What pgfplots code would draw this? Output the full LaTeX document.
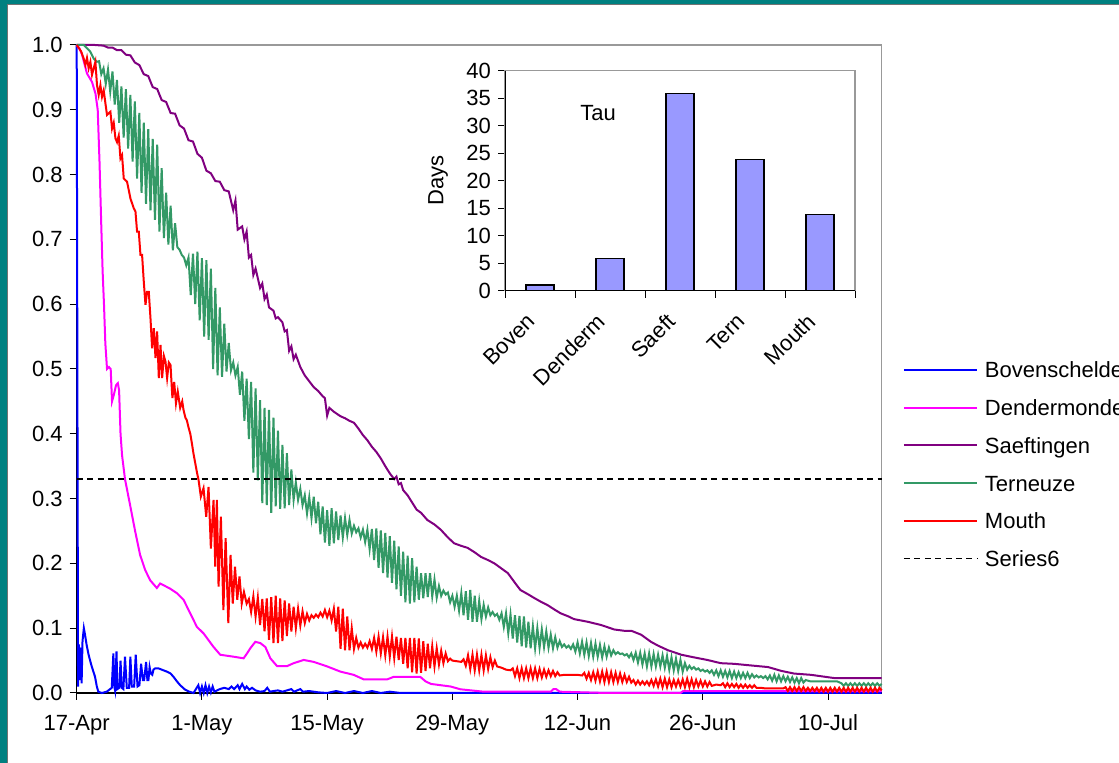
\documentclass[border=0pt]{standalone}
\usepackage{fontspec}
\setmainfont{Liberation Sans}
\usepackage{pgfplots}
\pgfplotsset{compat=1.18}
\definecolor{tealframe}{RGB}{0,128,128}
\definecolor{cBov}{RGB}{0,0,255}
\definecolor{cDen}{RGB}{255,0,255}
\definecolor{cSae}{RGB}{128,0,128}
\definecolor{cTer}{RGB}{51,153,102}
\definecolor{cMou}{RGB}{255,0,0}
\definecolor{cBar}{RGB}{153,153,255}
\newcommand{\chartfont}{\fontsize{11pt}{13pt}\selectfont}
\begin{document}
\begin{tikzpicture}[font=\chartfont]
\fill[tealframe] (0,0) rectangle (559.5pt,381.5pt);
\fill[white] (3.5pt,0) rectangle (559.5pt,379pt);
\draw[black!55, line width=0.5pt] (3.5pt,0) -- (3.5pt,379pt) -- (559.5pt,379pt);
\begin{axis}[
  at={(38.35pt,35pt)}, anchor=south west,
  scale only axis, width=402.5pt, height=324pt,
  xmin=0, xmax=90, ymin=0, ymax=1,
  clip=false,
  axis line style={draw=gray!80, line width=0.6pt},
  tick pos=left, tick align=outside, major tick length=3.5pt,
  tick style={black, line width=0.5pt},
  xtick={0,14,28,42,56,70,84},
  xticklabels={17-Apr,1-May,15-May,29-May,12-Jun,26-Jun,10-Jul},
  ytick={0,0.1,0.2,0.3,0.4,0.5,0.6,0.7,0.8,0.9,1},
  tick label style={font=\chartfont},
  xticklabel style={yshift=-4pt},
  yticklabel style={/pgf/number format/.cd, fixed, fixed zerofill, precision=1, assume math mode=true},
  legend cell align=left,
  legend image code/.code={\draw[#1] (0pt,0pt) -- (36.5pt,0pt);},
  legend style={at={(axis description cs:1.0264,0.5106)}, anchor=north west,
    draw=none, fill=none, inner sep=0pt, outer sep=0pt, row sep=10.95pt,
    font=\chartfont,
    nodes={inner sep=0pt, text height=7.9pt, text depth=0pt},
    /tikz/every odd column/.append style={column sep=3.5pt}},
]
\draw[black, line width=0.6pt] (rel axis cs:0,1) -- (rel axis cs:0,0) -- (rel axis cs:1,0);
% Bovenschelde
\addplot[cBov, line width=1pt] table {
x y
0 1.0
0.15 0.01
0.25 0.075
0.35 0.02
0.45 0.07
0.55 0.015
0.65 0.08
0.8 0.10
0.93 0.09
1.1 0.075
1.3 0.061
1.5 0.05
1.68 0.041
2.05 0.025
2.25 0.01
2.42 0.002
2.8 0.0
3.36 0.002
3.92 0.008
4.1 0.061
4.2 0.01
4.29 0.004
4.45 0.064
4.55 0.006
4.77 0.008
4.9 0.05
5.04 0.008
5.22 0.006
5.4 0.056
5.6 0.008
5.86 0.008
6.0 0.056
6.16 0.01
6.42 0.01
6.6 0.059
6.8 0.01
7.01 0.012
7.2 0.045
7.4 0.02
7.54 0.02
7.76 0.048
7.9 0.02
8.02 0.02
8.15 0.04
8.29 0.03
8.45 0.028
8.58 0.036
8.77 0.038
9.14 0.038
9.7 0.035
10.08 0.033
10.5 0.03
10.82 0.025
11.2 0.018
11.57 0.012
12.13 0.005
12.6 0.002
13.06 0.0
13.6 0.012
13.8 0.0
14.0 0.01
14.2 0.0
14.4 0.012
14.6 0.0
14.8 0.01
15.0 0.001
15.2 0.01
15.4 0.002
15.7 0.004
16.0 0.006
16.5 0.008
17.0 0.006
17.3 0.01
17.6 0.006
18.0 0.012
18.2 0.006
18.5 0.014
18.8 0.006
19.0 0.01
19.3 0.005
19.6 0.008
20.0 0.004
20.5 0.002
21.0 0.003
21.3 0.008
21.6 0.002
22.0 0.003
22.5 0.004
23.0 0.002
24.0 0.006
24.3 0.002
25.0 0.006
25.3 0.002
26.0 0.003
27.0 0.001
28.0 0.0
29.0 0.003
30.0 0.0
31.0 0.003
32.0 0.0
33.0 0.003
34.0 0.0
35.0 0.002
36.2 0.0
90 0.0
};
\addlegendentry{Bovenschelde}
% Dendermonde
\addplot[cDen, line width=1pt] table {
x y
0 1.0
0.3 0.995
0.6 0.985
1.15 0.956
1.71 0.943
2.1 0.925
2.35 0.90
2.55 0.82
2.75 0.72
2.9 0.65
3.05 0.60
3.2 0.54
3.39 0.50
3.6 0.503
3.8 0.50
3.95 0.45
4.15 0.46
4.4 0.475
4.6 0.478
4.74 0.467
4.9 0.40
5.07 0.367
5.4 0.33
5.97 0.29
6.53 0.25
7.09 0.213
7.65 0.19
8.21 0.174
8.96 0.162
9.33 0.169
10.45 0.161
11.2 0.154
11.94 0.144
12.69 0.123
13.44 0.102
14.18 0.092
15.3 0.071
16.05 0.059
17.54 0.056
18.66 0.0535
19.04 0.061
19.41 0.069
19.97 0.079
20.53 0.077
21.09 0.071
21.65 0.0535
22.4 0.0415
23.52 0.0415
24.26 0.046
25.38 0.051
26.5 0.048
28.0 0.041
29.48 0.033
30.97 0.028
32.09 0.021
34.71 0.021
35.46 0.025
38.4 0.025
39.0 0.018
39.6 0.014
41.8 0.010
42.9 0.0057
45.5 0.002
53.0 0.002
53.3 0.006
53.6 0.006
54.0 0.002
59.3 0.0
67.5 0.0
67.8 0.003
90 0.003
};
\addlegendentry{Dendermonde}
% Saeftingen
\addplot[cSae, line width=1pt] table {
x y
0 1.0
2.0 1.0
3.0 0.999
3.5 0.996
4.0 0.996
4.5 0.992
5.0 0.992
5.5 0.985
6.0 0.984
6.5 0.973
7.0 0.969
7.5 0.955
8.0 0.952
8.5 0.935
9.0 0.932
9.5 0.915
10.0 0.912
10.5 0.895
11.0 0.894
11.5 0.876
12.0 0.871
12.5 0.853
13.0 0.851
13.5 0.832
14.0 0.826
14.5 0.806
15.0 0.802
15.5 0.79
16.0 0.789
16.5 0.776
17.0 0.774
17.5 0.745
17.75 0.76
18.0 0.715
18.5 0.72
18.75 0.70
19.0 0.712
19.25 0.672
19.5 0.676
19.75 0.645
20.0 0.655
20.5 0.625
20.75 0.632
21.0 0.608
21.25 0.615
21.5 0.595
22.0 0.59
22.25 0.578
22.5 0.58
23.0 0.572
23.25 0.558
23.5 0.56
23.75 0.528
24.0 0.535
24.25 0.515
24.5 0.522
25.0 0.503
25.5 0.49
26.0 0.481
26.5 0.472
27.0 0.466
27.5 0.458
27.75 0.455
28.0 0.428
28.25 0.44
28.75 0.434
29.5 0.427
30.0 0.424
30.5 0.42
31.0 0.417
31.5 0.408
32.0 0.398
32.5 0.39
33.0 0.38
33.5 0.372
34.0 0.362
34.5 0.35
35.0 0.339
35.5 0.33
35.75 0.334
36.0 0.322
36.25 0.324
36.5 0.313
37.0 0.305
37.5 0.294
38.0 0.283
38.5 0.278
39.2 0.267
40.0 0.26
40.7 0.252
41.5 0.24
42.2 0.231
43.0 0.227
43.7 0.224
44.5 0.217
45.2 0.21
46.0 0.205
46.7 0.2
47.5 0.192
48.2 0.185
49.0 0.17
49.6 0.159
50.5 0.152
51.1 0.147
52.0 0.14
52.6 0.136
53.5 0.128
54.1 0.123
55.0 0.118
55.6 0.114
57.1 0.11
58.6 0.105
60.1 0.098
61.2 0.096
62.0 0.096
63.1 0.09
64.2 0.079
65.0 0.073
66.1 0.066
67.6 0.059
69.0 0.055
70.5 0.051
72.0 0.046
73.5 0.045
75.0 0.043
77.3 0.04
78.8 0.034
80.2 0.03
82.1 0.028
84.7 0.023
90 0.023
};
\addlegendentry{Saeftingen}
% Terneuze
\addplot[cTer, line width=1pt] table {
x y
0 1.0
0.8 1.0
1.5 0.99
1.9 0.979
2.25 0.974
2.5 0.975
2.75 0.955
3.0 0.964
3.25 0.94
3.5 0.962
3.75 0.928
4.0 0.959
4.25 0.908
4.5 0.946
4.75 0.88
5.0 0.936
5.25 0.857
5.5 0.932
5.75 0.84
6.0 0.923
6.25 0.82
6.5 0.913
6.75 0.794
7.0 0.895
7.25 0.772
7.5 0.88
7.75 0.755
8.0 0.87
8.25 0.745
8.5 0.855
8.75 0.73
9.0 0.846
9.25 0.712
9.5 0.81
9.75 0.702
10.0 0.772
10.25 0.692
10.5 0.752
10.75 0.683
11.0 0.725
11.25 0.688
11.5 0.684
11.75 0.676
12.0 0.672
12.25 0.66
12.5 0.672
12.75 0.614
13.0 0.678
13.25 0.60
13.5 0.681
13.75 0.575
14.0 0.671
14.25 0.55
14.5 0.668
14.75 0.545
15.0 0.655
15.25 0.50
15.5 0.625
15.75 0.49
16.0 0.595
16.25 0.488
16.5 0.57
16.75 0.496
17.0 0.54
17.25 0.498
17.5 0.51
17.75 0.49
18.0 0.503
18.25 0.46
18.5 0.496
18.75 0.42
19.0 0.485
19.25 0.392
19.5 0.48
19.75 0.34
20.0 0.47
20.25 0.328
20.5 0.452
20.75 0.293
21.0 0.44
21.25 0.29
21.5 0.437
21.75 0.278
22.0 0.425
22.25 0.288
22.5 0.405
22.75 0.284
23.0 0.383
23.25 0.285
23.5 0.37
23.75 0.29
24.0 0.345
24.25 0.298
24.5 0.325
24.75 0.298
25.0 0.315
25.25 0.29
25.5 0.305
25.75 0.277
26.0 0.302
26.25 0.27
26.5 0.303
26.75 0.262
27.0 0.295
27.25 0.245
27.5 0.288
27.75 0.232
28.0 0.282
28.25 0.227
28.5 0.285
28.75 0.231
29.0 0.28
29.25 0.236
29.5 0.274
29.75 0.24
30.0 0.27
30.25 0.244
30.5 0.267
30.75 0.246
31.0 0.258
31.25 0.248
31.5 0.254
31.75 0.24
32.0 0.252
32.25 0.233
32.5 0.252
32.75 0.222
33.0 0.253
33.25 0.205
33.5 0.254
33.75 0.193
34.0 0.251
34.25 0.185
34.5 0.247
34.75 0.178
35.0 0.242
35.25 0.17
35.5 0.235
35.75 0.16
36.0 0.226
36.25 0.15
36.5 0.218
36.75 0.14
37.0 0.212
37.25 0.138
37.5 0.208
37.75 0.14
38.0 0.195
38.25 0.144
38.5 0.185
38.75 0.146
39.0 0.185
39.25 0.148
39.5 0.185
39.75 0.149
40.0 0.175
40.25 0.147
40.5 0.165
40.75 0.15
41.0 0.158
41.25 0.152
41.5 0.155
41.75 0.14
42.0 0.15
42.25 0.133
42.5 0.15
42.75 0.127
43.0 0.154
43.25 0.12
43.5 0.157
43.75 0.113
44.0 0.159
44.25 0.11
44.5 0.15
44.75 0.11
45.0 0.142
45.25 0.114
45.5 0.136
45.75 0.118
46.0 0.132
46.25 0.12
46.5 0.125
46.75 0.119
47.0 0.122
47.25 0.113
47.5 0.123
47.75 0.102
48.0 0.123
48.25 0.092
48.5 0.121
48.75 0.084
49.0 0.12
49.25 0.078
49.5 0.119
49.75 0.072
50.0 0.118
50.25 0.07
50.5 0.11
50.75 0.069
51.0 0.103
51.25 0.069
51.5 0.1
51.75 0.07
52.0 0.098
52.25 0.071
52.5 0.095
52.75 0.07
53.0 0.09
53.25 0.069
53.5 0.086
53.75 0.07
54.0 0.08
54.25 0.071
54.5 0.075
54.75 0.07
55.0 0.073
55.25 0.068
55.5 0.075
55.75 0.064
56.0 0.078
56.25 0.061
56.5 0.079
56.75 0.059
57.0 0.078
57.25 0.057
57.5 0.077
57.75 0.056
58.0 0.076
58.25 0.056
58.5 0.074
58.75 0.055
59.0 0.072
59.25 0.056
59.5 0.07
59.75 0.058
60.0 0.066
60.25 0.06
60.5 0.063
60.75 0.06
61.0 0.061
61.25 0.058
61.5 0.06
61.75 0.055
62.0 0.061
62.25 0.051
62.5 0.062
62.75 0.047
63.0 0.062
63.25 0.044
63.5 0.061
63.75 0.041
64.0 0.061
64.25 0.041
64.5 0.06
64.75 0.041
65.0 0.059
65.25 0.041
65.5 0.058
65.75 0.039
66.0 0.057
66.25 0.036
66.5 0.055
66.75 0.035
67.0 0.053
67.25 0.034
67.5 0.051
67.75 0.033
68.0 0.046
68.25 0.036
68.5 0.042
68.75 0.037
69.0 0.04
69.25 0.036
69.5 0.038
69.75 0.034
70.0 0.036
70.25 0.033
70.5 0.035
70.75 0.031
71.0 0.035
71.25 0.028
71.5 0.035
71.75 0.026
72.0 0.035
72.25 0.025
72.5 0.034
72.75 0.024
73.0 0.034
73.25 0.023
73.5 0.033
73.75 0.023
74.0 0.032
74.25 0.023
74.5 0.031
74.75 0.023
75.0 0.031
75.25 0.023
75.5 0.029
75.75 0.024
76.0 0.027
76.25 0.024
76.5 0.026
76.75 0.023
77.0 0.026
77.25 0.021
77.5 0.027
77.75 0.019
78.0 0.028
78.25 0.018
78.5 0.027
78.75 0.018
79.0 0.026
79.25 0.018
79.5 0.025
79.75 0.017
80.0 0.024
80.25 0.016
80.5 0.023
80.75 0.015
81.0 0.023
81.25 0.016
81.5 0.02
82.0 0.018
85.0 0.018
85.5 0.015
85.75 0.011
86.0 0.015
86.25 0.011
86.5 0.015
86.75 0.011
87.0 0.015
87.25 0.011
87.5 0.015
87.75 0.011
88.0 0.015
88.25 0.011
88.5 0.015
88.75 0.011
89.0 0.015
89.25 0.011
89.5 0.015
89.75 0.011
90.0 0.014
};
\addlegendentry{Terneuze}
% Mouth
\addplot[cMou, line width=1pt] table {
x y
0 1.0
0.5 0.99
0.78 0.979
0.97 0.969
1.15 0.98
1.34 0.964
1.53 0.974
1.71 0.954
2.09 0.974
2.27 0.938
2.46 0.923
2.65 0.938
2.83 0.92
3.02 0.93
3.21 0.91
3.39 0.892
3.77 0.897
3.95 0.871
4.14 0.88
4.33 0.856
4.51 0.85
4.70 0.86
4.89 0.825
5.07 0.83
5.26 0.794
5.63 0.789
6.01 0.763
6.38 0.748
6.57 0.743
6.75 0.712
6.94 0.712
7.13 0.676
7.31 0.676
7.50 0.635
7.69 0.599
7.87 0.619
8.06 0.619
8.25 0.578
8.43 0.532
8.62 0.563
8.81 0.517
8.99 0.558
9.18 0.486
9.37 0.537
9.55 0.486
9.75 0.52
9.93 0.511
10.11 0.486
10.3 0.51
10.49 0.506
10.7 0.455
10.9 0.48
11.1 0.447
11.3 0.465
11.57 0.44
11.8 0.45
11.94 0.437
12.15 0.425
12.31 0.421
12.5 0.41
12.7 0.40
12.87 0.386
13.05 0.37
13.25 0.355
13.45 0.34
13.62 0.329
13.88 0.303
14.18 0.316
14.48 0.272
14.74 0.318
15.0 0.223
15.3 0.298
15.49 0.195
15.67 0.298
15.86 0.164
16.12 0.272
16.4 0.128
16.65 0.239
16.95 0.108
17.2 0.213
17.45 0.138
17.7 0.195
17.95 0.144
18.2 0.18
18.45 0.138
18.7 0.156
19.0 0.138
19.25 0.145
19.5 0.125
19.75 0.149
20.0 0.118
20.25 0.147
20.5 0.105
20.75 0.145
21.0 0.095
21.25 0.146
21.5 0.082
21.75 0.148
22.0 0.077
22.25 0.15
22.5 0.077
22.75 0.146
23.0 0.08
23.25 0.143
23.5 0.088
23.75 0.138
24.0 0.095
24.25 0.133
24.5 0.1
24.75 0.13
25.0 0.104
25.25 0.126
25.5 0.108
25.75 0.122
26.0 0.112
26.25 0.12
26.5 0.116
26.75 0.121
27.0 0.117
27.25 0.124
27.5 0.118
27.75 0.128
28.0 0.117
28.25 0.127
28.5 0.112
28.75 0.13
29.0 0.095
29.25 0.133
29.5 0.068
29.75 0.13
30.0 0.066
30.25 0.118
30.5 0.066
30.75 0.1
31.0 0.068
31.25 0.085
31.5 0.07
31.75 0.078
32.0 0.07
32.25 0.076
32.5 0.07
32.75 0.08
33.0 0.068
33.25 0.085
33.5 0.064
33.75 0.087
34.0 0.061
34.25 0.086
34.5 0.058
34.75 0.087
35.0 0.056
35.25 0.087
35.5 0.054
35.75 0.087
36.0 0.051
36.25 0.085
36.5 0.045
36.75 0.085
37.0 0.038
37.25 0.085
37.5 0.032
37.75 0.085
38.0 0.03
38.25 0.084
38.5 0.031
38.75 0.08
39.0 0.034
39.25 0.076
39.5 0.038
39.75 0.072
40.0 0.041
40.25 0.069
40.5 0.044
40.75 0.065
41.0 0.046
41.25 0.061
41.5 0.049
41.75 0.053
42.0 0.05
42.5 0.049
43.0 0.048
43.25 0.052
43.5 0.042
43.75 0.058
44.0 0.037
44.25 0.059
44.5 0.035
44.75 0.059
45.0 0.035
45.25 0.059
45.5 0.035
45.75 0.058
46.0 0.037
46.25 0.055
46.5 0.04
46.75 0.05
47.0 0.041
47.5 0.039
48.0 0.036
48.5 0.035
48.75 0.038
49.0 0.026
49.25 0.038
49.5 0.023
49.75 0.038
50.0 0.023
50.25 0.038
50.5 0.023
50.75 0.038
51.0 0.023
51.25 0.038
51.5 0.023
51.75 0.037
52.0 0.024
52.25 0.036
52.5 0.025
52.75 0.035
53.0 0.026
53.25 0.034
53.5 0.026
53.75 0.032
54.0 0.027
54.5 0.028
55.0 0.028
55.5 0.028
56.0 0.028
56.5 0.027
56.75 0.031
57.0 0.022
57.25 0.031
57.5 0.02
57.75 0.032
58.0 0.019
58.25 0.033
58.5 0.018
58.75 0.033
59.0 0.017
59.25 0.033
59.5 0.017
59.75 0.032
60.0 0.017
60.25 0.031
60.5 0.017
60.75 0.03
61.0 0.017
61.25 0.028
61.5 0.017
61.75 0.025
62.0 0.016
62.25 0.02
62.5 0.013
62.75 0.019
63.0 0.013
63.25 0.018
63.5 0.013
63.75 0.018
64.0 0.012
64.25 0.02
64.5 0.011
64.75 0.021
65.0 0.01
65.25 0.022
65.5 0.009
65.75 0.022
66.0 0.009
66.25 0.021
66.5 0.009
66.75 0.02
67.0 0.01
67.25 0.02
67.5 0.01
67.75 0.021
68.0 0.009
68.25 0.022
68.5 0.009
68.75 0.021
69.0 0.009
69.25 0.02
69.5 0.01
69.75 0.019
70.0 0.01
70.25 0.018
70.5 0.01
70.75 0.017
71.0 0.011
71.5 0.013
72.0 0.012
72.25 0.015
72.5 0.009
72.75 0.015
73.0 0.009
73.25 0.014
73.5 0.009
73.75 0.014
74.0 0.008
74.25 0.013
74.5 0.008
74.75 0.013
75.0 0.008
75.25 0.012
75.5 0.008
75.75 0.012
76.0 0.008
76.5 0.008
77.0 0.007
78.0 0.007
79.0 0.007
79.25 0.009
79.5 0.003
79.75 0.009
80.0 0.003
80.25 0.009
80.5 0.003
80.75 0.009
81.0 0.003
81.25 0.009
81.5 0.003
81.75 0.008
82.0 0.003
82.25 0.008
82.5 0.003
82.75 0.008
83.0 0.002
83.25 0.008
83.5 0.002
83.75 0.008
84.0 0.002
84.25 0.008
84.5 0.002
84.75 0.008
85.0 0.002
85.25 0.008
85.5 0.002
85.75 0.008
86.0 0.002
86.25 0.008
86.5 0.002
86.75 0.008
87.0 0.002
87.25 0.008
87.5 0.002
87.75 0.008
88.0 0.002
88.25 0.008
88.5 0.002
88.75 0.008
89.0 0.002
89.25 0.008
89.5 0.002
89.75 0.008
90.0 0.004
};
\addlegendentry{Mouth}
% Series6
\addplot[black, line width=0.9pt, dash pattern=on 3pt off 2.2pt] coordinates {(0,0.33) (90,0.33)};
\addlegendentry{Series6}
\end{axis}
% inset
\begin{axis}[
  at={(252.5pt,236.15pt)}, anchor=south west,
  scale only axis, width=175pt, height=110pt,
  xmin=-0.5, xmax=4.5, ymin=0, ymax=40,
  ytick={0,5,10,15,20,25,30,35,40},
  xtick={-0.5,0.5,1.5,2.5,3.5,4.5},
  xticklabels={},
  extra x ticks={0,1,2,3,4},
  extra x tick labels={Boven,Denderm,Saeft,Tern,Mouth},
  extra x tick style={major tick length=0pt, tick label style={xshift=-7.2pt, yshift=-5.7pt, rotate=45, anchor=north east}},
  tick pos=left, tick align=outside, major tick length=3.5pt,
  tick style={black, line width=0.5pt},
  tick label style={font=\chartfont},
  yticklabel style={/pgf/number format/assume math mode=true},
  axis line style={draw=gray!80, line width=0.6pt},
  ylabel={Days},
  ylabel style={at={(axis description cs:-0.191,0.5)}, anchor=center, font=\chartfont},
  ybar, bar width=0.4,
]
\draw[black, line width=0.6pt] (rel axis cs:0,1) -- (rel axis cs:0,0) -- (rel axis cs:1,0);
\addplot[fill=cBar, draw=black, line width=0.7pt] coordinates {(0,1.0) (1,5.8) (2,35.8) (3,23.9) (4,13.8)};
\node[font=\chartfont] at (axis cs:0.83,32.25) {Tau};
\end{axis}
\pgfresetboundingbox
\useasboundingbox (0,0) rectangle (559.5pt,381.5pt);
\end{tikzpicture}
\end{document}
